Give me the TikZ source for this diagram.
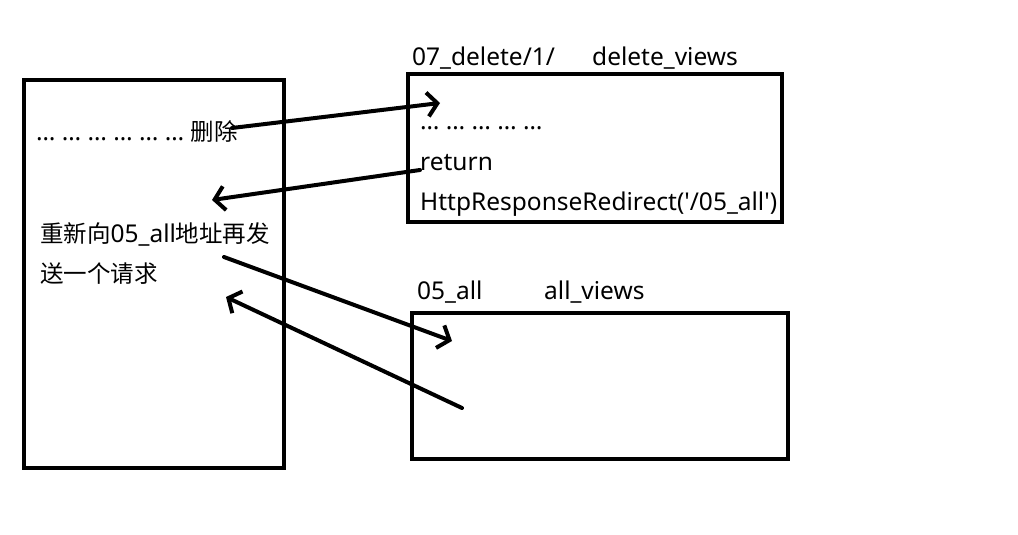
\documentclass[tikz,border=0pt]{standalone}
\usepackage{fontspec}
\setmainfont{Noto Sans}
\newfontfamily\cjkf{Noto Sans CJK SC}
\newcommand{\zh}[1]{{\cjkf\fontsize{23.5}{28}\selectfont #1}}
\usetikzlibrary{arrows.meta}
\begin{document}
\begin{tikzpicture}[x=1pt,y=-1pt,
  box/.style={draw=black,line width=4pt},
  lbl/.style={anchor=west,inner sep=0pt,font=\fontsize{24.5}{29}\selectfont},
  arr/.style={draw=black,line width=4pt,line cap=round,-{Straight Barb[length=10pt,width=24pt,line width=4pt]}}]
\useasboundingbox (0,0) rectangle (1018,535);
\fill[white] (0,0) rectangle (1018,535);
% boxes
\draw[box] (24,80) rectangle (284,468);
\draw[box] (408,74) rectangle (782,222);
\draw[box] (412,313) rectangle (788,459);
% texts
\node[lbl] (t1) at (36,131) {… … … … … … \zh{删除}};
\node[lbl] (t2) at (40,234) {\zh{重新向}05\_all\zh{地址再发}};
\node[lbl] (t3) at (40,274) {\zh{送一个请求}};
\node[lbl] (d1) at (412,58) {07\_delete/1/};
\node[lbl] (d2) at (592,58) {delete\_views};
\node[lbl] (d3) at (420,128) {… … … … …};
\node[lbl] (d4) at (420,163) {return};
\node[lbl] (d5) at (420,204) {HttpResponseRedirect(\textquotesingle/05\_all\textquotesingle)};
\node[lbl] (a1) at (417,292) {05\_all};
\node[lbl] (a2) at (544,292) {all\_views};
% arrow endpoints
\coordinate (p1s) at (232,128);
\coordinate (p1e) at (440,103);
\coordinate (p2s) at (420,170);
\coordinate (p2e) at (212,200);
\coordinate (p3s) at (224,257);
\coordinate (p3e) at (452,341);
\coordinate (p4s) at (462,408);
\coordinate (p4e) at (226,297);
\draw[arr] (p1s) -- (p1e);
\draw[arr] (p2s) -- (p2e);
\draw[arr] (p3s) -- (p3e);
\draw[arr] (p4s) -- (p4e);
\end{tikzpicture}
\end{document}
